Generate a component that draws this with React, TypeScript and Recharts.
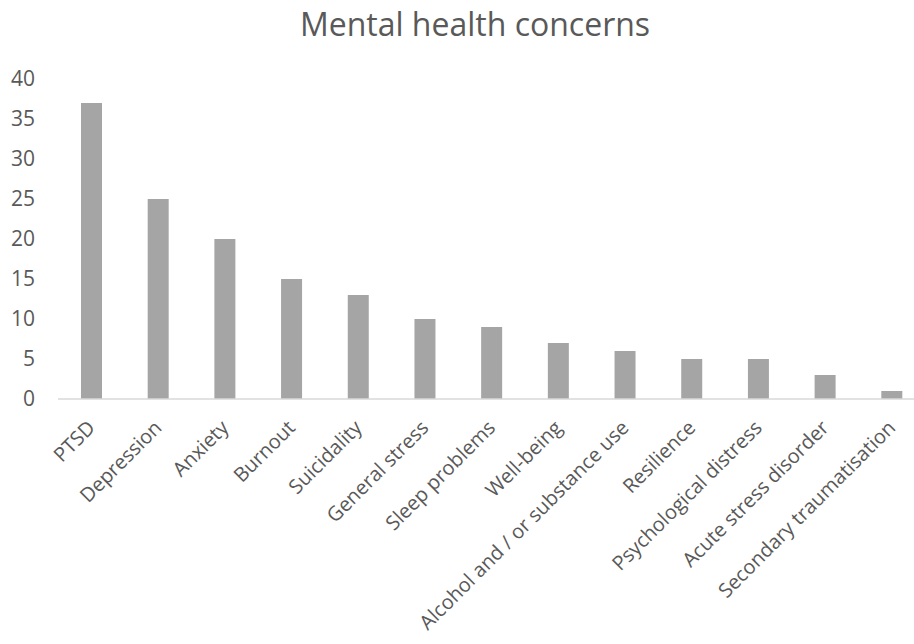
import { BarChart, Bar, XAxis, YAxis } from 'recharts';

const categories = [
  'PTSD',
  'Depression',
  'Anxiety',
  'Burnout',
  'Suicidality',
  'General stress',
  'Sleep problems',
  'Well-being',
  'Alcohol and / or substance use',
  'Resilience',
  'Psychological distress',
  'Acute stress disorder',
  'Secondary traumatisation',
];
const counts = [37, 25, 20, 15, 13, 10, 9, 7, 6, 5, 5, 3, 1];
const yTicks = [0, 5, 10, 15, 20, 25, 30, 35, 40];

const FONT = '"Open Sans", sans-serif';
const TEXT = '#595959';

const data = categories.map((name, i) => ({ name, value: counts[i] }));

function SlantedTick({ x, y, payload }: any) {
  return (
    <g transform={`translate(${x + 5},${y + 22}) rotate(-45)`}>
      <text x={0} y={0} textAnchor="end" fill={TEXT} fontSize={20} fontFamily={FONT}>
        {payload.value}
      </text>
    </g>
  );
}

export default function App() {
  return (
    <div
      style={{
        position: 'absolute',
        left: 0,
        top: 0,
        width: 914,
        height: 644,
        overflow: 'hidden',
        background: '#fff',
      }}
    >
      <svg width={914} height={60} style={{ position: 'absolute', left: 0, top: 0 }}>
        <text x={475} y={36} textAnchor="middle" fill={TEXT} fontSize={32} fontFamily={FONT}>
          Mental health concerns
        </text>
      </svg>
      <div style={{ position: 'absolute', left: 0, top: 0 }}>
        <BarChart
          width={925}
          height={644}
          data={data}
          margin={{ top: 79, right: 0, bottom: 0, left: 0 }}
          barSize={21}
        >
          <XAxis
            dataKey="name"
            interval={0}
            height={245}
            tickLine={false}
            axisLine={{ stroke: '#D9D9D9', strokeWidth: 1.5 }}
            tick={<SlantedTick />}
          />
          <YAxis
            width={58}
            domain={[0, 40]}
            ticks={yTicks}
            axisLine={false}
            tickLine={false}
            tickSize={0}
            tickMargin={23}
            tick={{ fill: TEXT, fontSize: 21, fontFamily: FONT }}
          />
          <Bar dataKey="value" fill="#A5A5A5" isAnimationActive={false} />
        </BarChart>
      </div>
    </div>
  );
}
